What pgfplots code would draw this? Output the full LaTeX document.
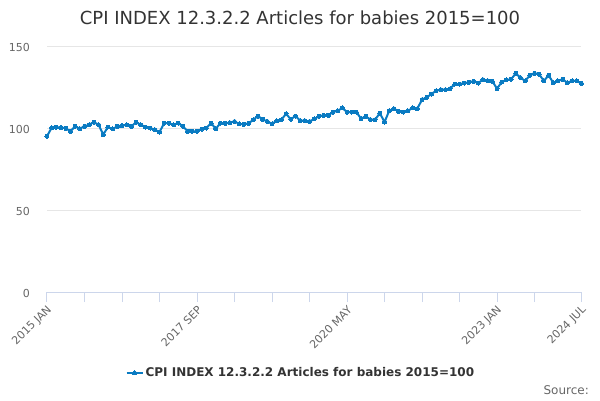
\documentclass[border=0pt]{standalone}
\usepackage{fontspec}
\setmainfont{DejaVu Sans}
\usepackage{pgfplots}
\pgfplotsset{compat=1.18}
\definecolor{series}{HTML}{0A7BC2}
\definecolor{ctitle}{HTML}{333333}
\definecolor{clabel}{HTML}{666666}
\definecolor{cgrid}{HTML}{E6E6E6}
\definecolor{caxis}{HTML}{CCD6EB}
\pgfplotstableread{
i v
0 95.0
1 100.2
2 100.5
3 100.3
4 99.8
5 98.0
6 101.0
7 99.6
8 101.0
9 102.0
10 103.6
11 102.0
12 96.0
13 100.6
14 99.4
15 101.0
16 101.5
17 102.0
18 101.0
19 103.5
20 102.0
21 100.6
22 100.0
23 99.0
24 97.5
25 103.0
26 103.0
27 102.0
28 103.0
29 101.0
30 98.0
31 98.0
32 98.0
33 99.3
34 100.0
35 103.0
36 99.5
37 103.0
38 102.8
39 103.3
40 104.0
41 102.5
42 102.2
43 102.8
44 105.0
45 107.3
46 105.3
47 104.0
48 102.5
49 104.4
50 105.0
51 108.7
52 105.3
53 107.3
54 104.5
55 104.5
56 104.0
57 105.5
58 107.1
59 107.7
60 107.7
61 109.7
62 110.5
63 112.2
64 109.7
65 109.7
66 109.7
67 105.7
68 107.1
69 105.1
70 105.1
71 109.1
72 103.6
73 110.5
74 111.8
75 110.2
76 109.7
77 110.5
78 112.2
79 111.8
80 117.3
81 118.7
82 120.7
83 122.7
84 123.4
85 123.4
86 124.0
87 126.8
88 126.8
89 127.4
90 127.8
91 128.5
92 127.4
93 129.5
94 128.9
95 128.5
96 124.0
97 128.0
98 129.3
99 129.7
100 133.3
101 130.7
102 128.7
103 132.1
104 133.3
105 132.7
106 128.7
107 132.1
108 127.6
109 128.7
110 129.7
111 127.6
112 128.7
113 128.7
114 127.2
}\cpidata
\begin{document}
\begin{tikzpicture}[x=1pt,y=1pt]
\path[use as bounding box] (0,0) rectangle (600,400);
\node[font=\fontsize{18}{22}\selectfont, text=ctitle] at (300,382) {CPI INDEX 12.3.2.2 Articles for babies 2015=100};
\node[font=\fontsize{12}{14}\selectfont, text=clabel, anchor=east, inner sep=0pt] at (589,10) {Source:};
\begin{axis}[
  at={(47pt,108pt)}, anchor=south west,
  scale only axis, width=534.4pt, height=246pt,
  xmin=0, xmax=114, ymin=0, ymax=150,
  enlargelimits=false, clip=false,
  axis x line*=bottom, axis y line*=left,
  x axis line style={draw=caxis, line width=1pt},
  y axis line style={draw=none},
  ytick={0,50,100,150},
  ymajorgrids, major grid style={draw=cgrid, line width=1pt},
  ytick style={draw=none},
  xtick={0,32,64,96,114},
  xticklabels={2015 JAN,2017 SEP,2020 MAY,2023 JAN,2024 JUL},
  extra x ticks={8,16,24,40,48,56,72,80,88,104},
  extra x tick labels={},
  extra x tick style={grid=none, xtick style={draw=caxis, line width=1pt}},
  tick align=outside,
  xtick style={draw=caxis, line width=1pt},
  major tick length=10pt,
  /pgf/number format/assume math mode=true,
  tick label style={font=\fontsize{11}{13}\selectfont, text=clabel},
  yticklabel style={anchor=east, inner sep=0pt, xshift=-7pt, yshift=-1pt},
  xticklabel style={yshift=-6pt, xshift=3pt, rotate=45, anchor=east, inner sep=0pt},
  legend style={at={(0.475,-0.329)}, anchor=center, draw=none, fill=none,
    font=\bfseries\fontsize{12}{14}\selectfont, text=ctitle, inner sep=0pt},
  legend cell align=left,
  legend image code/.code={\draw[mark repeat=2,mark phase=2,#1] plot coordinates {(0pt,0pt)(8pt,0pt)(16pt,0pt)};},
]
\addplot[color=series, line width=2pt, mark=*, mark size=2pt, mark options={solid, fill=series, draw=series, line width=0pt}] table[x=i, y=v] {\cpidata};
\addlegendentry{CPI INDEX 12.3.2.2 Articles for babies 2015=100}
\end{axis}
\end{tikzpicture}
\end{document}
